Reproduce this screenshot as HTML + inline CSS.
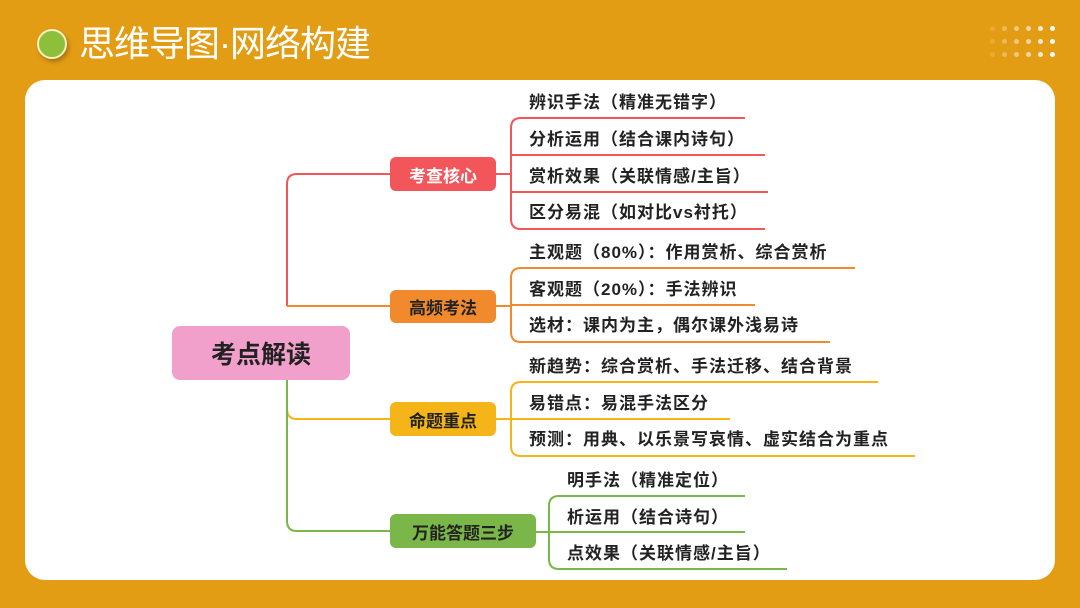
<!DOCTYPE html>
<html><head><meta charset="utf-8"><style>
*{margin:0;padding:0;box-sizing:border-box}
body{width:1080px;height:608px;background:#E39D15;position:relative;overflow:hidden;font-family:"Liberation Sans","Noto Sans CJK SC",sans-serif}
.card{position:absolute;left:25px;top:80px;width:1030px;height:500px;background:#fff;border-radius:20px}
.title{position:absolute;left:79px;top:20px;color:#fff;font-size:36px;line-height:48px;letter-spacing:-1px}
.dot{position:absolute;left:37px;top:29px;width:30px;height:30px;border-radius:50%;background:#8DBF3A;border:2px solid #f4f0c0;box-shadow:2px 3px 4px rgba(0,0,0,.25)}
.n{position:absolute;color:#fff;font-weight:bold;font-size:17px;display:flex;align-items:center;justify-content:center;border-radius:6px}
.t{position:absolute;font-size:17px;letter-spacing:1px;font-weight:bold;color:#222;line-height:20px;white-space:nowrap}
.dots{position:absolute;left:990px;top:26px}
.dots i{position:absolute;width:5px;height:5px;border-radius:50%;background:#fff}
</style></head><body>
<div class="dot"></div>
<div class="title">思维导图·网络构建</div>
<div class="dots">
<i style="left:0;top:0;opacity:.15"></i><i style="left:12px;top:0;opacity:.3"></i><i style="left:24px;top:0;opacity:.45"></i><i style="left:36px;top:0;opacity:.6"></i><i style="left:48px;top:0;opacity:.8"></i><i style="left:60px;top:0;opacity:1"></i>
<i style="left:0;top:13px;opacity:.15"></i><i style="left:12px;top:13px;opacity:.3"></i><i style="left:24px;top:13px;opacity:.45"></i><i style="left:36px;top:13px;opacity:.6"></i><i style="left:48px;top:13px;opacity:.8"></i><i style="left:60px;top:13px;opacity:1"></i>
<i style="left:0;top:26px;opacity:.15"></i><i style="left:12px;top:26px;opacity:.3"></i><i style="left:24px;top:26px;opacity:.45"></i><i style="left:36px;top:26px;opacity:.6"></i><i style="left:48px;top:26px;opacity:.8"></i><i style="left:60px;top:26px;opacity:1"></i>
</div>
<div class="card"></div>
<svg style="position:absolute;left:0;top:0" width="1080" height="608" fill="none" stroke-width="2">
<path d="M287 306 V184 Q287 174 297 174 H390" stroke="#F2555A"/>
<path d="M287 306 H390" stroke="#F08A2C"/>
<path d="M287 340 V409 Q287 419 297 419 H390" stroke="#F5B418"/>
<path d="M287 340 V521 Q287 531 297 531 H390" stroke="#7AB648"/>
<path d="M496 174 H511" stroke="#F2555A"/>
<path d="M745 118 H521 Q511 118 511 128 V219 Q511 229 521 229 H765 M511 155 H765 M511 192 H768" stroke="#F2555A"/>
<path d="M496 306 H511" stroke="#F08A2C"/>
<path d="M855 268 H521 Q511 268 511 278 V332 Q511 342 521 342 H830 M511 305 H755" stroke="#F08A2C"/>
<path d="M496 419 H511" stroke="#F5B418"/>
<path d="M878 382 H521 Q511 382 511 392 V446 Q511 456 521 456 H915 M511 419 H730" stroke="#F5B418"/>
<path d="M536 532 H549" stroke="#7AB648"/>
<path d="M745 496 H559 Q549 496 549 506 V559 Q549 569 559 569 H787 M549 532 H745" stroke="#7AB648"/>
</svg>
<div class="n" style="left:172px;top:326px;width:178px;height:54px;background:#F19FCB;color:#222;font-size:25px;border-radius:8px">考点解读</div>
<div class="n" style="left:390px;top:157px;width:106px;height:34px;background:#F2555A">考查核心</div>
<div class="n" style="left:390px;top:290px;width:106px;height:33px;background:#F08A2C;color:#222">高频考法</div>
<div class="n" style="left:390px;top:402px;width:106px;height:34px;background:#F5B418;color:#222">命题重点</div>
<div class="n" style="left:390px;top:514px;width:146px;height:34px;background:#7AB648;color:#222">万能答题三步</div>
<div class="t" style="left:529px;top:93px">辨识手法（精准无错字）</div>
<div class="t" style="left:529px;top:130px">分析运用（结合课内诗句）</div>
<div class="t" style="left:529px;top:167px">赏析效果（关联情感/主旨）</div>
<div class="t" style="left:529px;top:203px">区分易混（如对比vs衬托）</div>
<div class="t" style="left:529px;top:243px">主观题（80%）：作用赏析、综合赏析</div>
<div class="t" style="left:529px;top:280px">客观题（20%）：手法辨识</div>
<div class="t" style="left:529px;top:316px">选材：课内为主，偶尔课外浅易诗</div>
<div class="t" style="left:529px;top:357px">新趋势：综合赏析、手法迁移、结合背景</div>
<div class="t" style="left:529px;top:394px">易错点：易混手法区分</div>
<div class="t" style="left:529px;top:430px">预测：用典、以乐景写哀情、虚实结合为重点</div>
<div class="t" style="left:567px;top:471px">明手法（精准定位）</div>
<div class="t" style="left:567px;top:508px">析运用（结合诗句）</div>
<div class="t" style="left:567px;top:544px">点效果（关联情感/主旨）</div>
</body></html>
